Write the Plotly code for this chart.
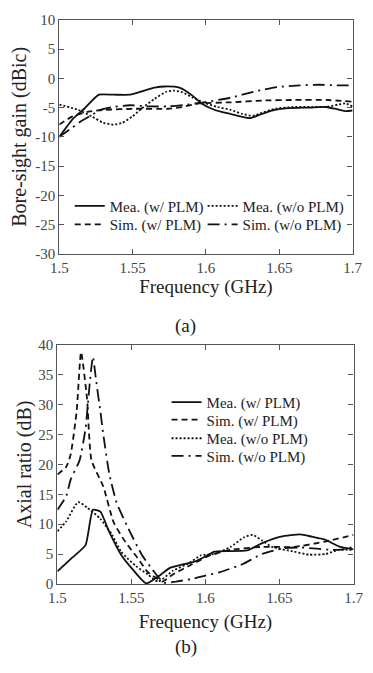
import plotly.graph_objects as go

# ---------------- (a) Bore-sight gain ----------------
gain_mea_w_f = [1.5, 1.509, 1.517, 1.527, 1.537, 1.548, 1.554, 1.565, 1.572, 1.582, 1.591, 1.597, 1.604,
                1.610, 1.617, 1.630, 1.636, 1.645, 1.656, 1.671, 1.682, 1.688, 1.695, 1.7]
gain_mea_w = [-10, -7.0, -5.2, -2.8, -2.8, -2.8, -2.4, -1.6, -1.4, -1.6, -3.0, -4.3, -5.2,
              -5.7, -6.1, -6.8, -6.3, -5.5, -5.1, -5.0, -4.9, -5.2, -5.6, -5.5]

gain_mea_wo_f = [1.5, 1.513, 1.522, 1.530, 1.537, 1.543, 1.550, 1.556, 1.565, 1.573, 1.578, 1.584, 1.591,
                 1.599, 1.608, 1.617, 1.625, 1.632, 1.638, 1.647, 1.660, 1.673, 1.682, 1.690, 1.695, 1.7]
gain_mea_wo = [-4.5, -5.4, -6.5, -7.6, -7.9, -7.6, -6.5, -5.2, -3.5, -2.3, -2.1, -2.4, -3.3,
               -4.2, -4.9, -5.4, -6.1, -6.4, -5.9, -5.2, -4.9, -4.9, -4.9, -4.5, -4.3, -4.8]

gain_sim_w_f = [1.5, 1.509, 1.520, 1.530, 1.552, 1.574, 1.584, 1.595, 1.617, 1.639, 1.660, 1.682, 1.7]
gain_sim_w = [-7.9, -6.5, -5.7, -5.4, -5.2, -5.2, -4.9, -4.3, -4.1, -3.8, -3.7, -3.7, -4.0]

gain_sim_wo_f = [1.5, 1.509, 1.515, 1.522, 1.528, 1.537, 1.548, 1.561, 1.574, 1.587, 1.599, 1.617,
                 1.634, 1.649, 1.664, 1.677, 1.690, 1.7]
gain_sim_wo = [-10, -8.4, -7.3, -6.3, -5.4, -4.9, -4.6, -4.8, -4.8, -4.5, -4.1, -3.3,
               -2.2, -1.5, -1.2, -1.1, -1.2, -1.2]

# ---------------- (b) Axial ratio ----------------
ar_mea_w_f = [1.5, 1.510, 1.519, 1.524, 1.529, 1.535, 1.543, 1.551, 1.560, 1.570, 1.576, 1.585, 1.591,
              1.600, 1.606, 1.615, 1.628, 1.638, 1.651, 1.664, 1.672, 1.681, 1.690, 1.7]
ar_mea_w = [2.1, 4.4, 6.5, 12.4, 12.1, 8.7, 4.9, 2.4, 0.1, 1.6, 2.7, 3.3, 3.6,
            4.6, 5.4, 5.5, 5.6, 6.8, 7.9, 8.3, 7.9, 7.4, 6.3, 5.8]

ar_sim_w_f = [1.5, 1.506, 1.509, 1.513, 1.516, 1.520, 1.523, 1.531, 1.538, 1.546, 1.554, 1.561, 1.568,
              1.571, 1.578, 1.591, 1.604, 1.617, 1.638, 1.660, 1.681, 1.7]
ar_sim_w = [18.3, 19.6, 21.7, 28.9, 38.8, 31.0, 20.7, 16.3, 10.3, 7.0, 4.4, 2.0, 0.8,
            0.4, 1.6, 3.3, 4.9, 5.7, 6.2, 6.2, 7.1, 8.2]

ar_mea_wo_f = [1.5, 1.506, 1.514, 1.520, 1.529, 1.537, 1.543, 1.553, 1.561, 1.568, 1.578, 1.589, 1.597,
               1.606, 1.617, 1.626, 1.632, 1.638, 1.645, 1.660, 1.670, 1.681, 1.690, 1.7]
ar_mea_wo = [8.8, 10.5, 13.7, 12.8, 10.9, 8.2, 5.4, 3.0, 1.6, 0.4, 2.2, 3.5, 4.8,
             5.0, 6.2, 7.8, 8.2, 7.3, 6.2, 5.4, 4.9, 5.0, 5.7, 5.7]

ar_sim_wo_f = [1.5, 1.506, 1.509, 1.515, 1.519, 1.522, 1.524, 1.526, 1.529, 1.531, 1.535, 1.540, 1.549,
               1.557, 1.563, 1.572, 1.580, 1.590, 1.600, 1.610, 1.625, 1.638, 1.653, 1.665, 1.675,
               1.685, 1.693, 1.7]
ar_sim_wo = [12.4, 14.7, 17.5, 20.7, 26.0, 34.0, 38.0, 34.3, 28.9, 25.0, 18.5, 13.6, 8.7,
             4.9, 2.8, 0.2, 0.4, 0.8, 1.4, 2.0, 3.3, 5.0, 6.0, 6.1, 5.9, 5.7, 5.8, 6.2]

x_ticks = [1.5, 1.55, 1.6, 1.65, 1.7]
gain_ticks = [10, 5, 0, -5, -10, -15, -20, -25, -30]
gain_tick_text = ["10", "5", "0", "-5", "-10", "-15", "-20", "-25", "-30"]
ar_ticks = [0, 5, 10, 15, 20, 25, 30, 35, 40]

FONT = "Liberation Serif, Times New Roman, serif"
INK = "#111111"
TXT = "#222222"
AXC = "#555555"
W = 373
H = 673

DASHES = {"solid": "solid", "dot": "2px,2px", "dash": "6px,4px", "dashdot": "12px,5px,2px,5px"}


def px_x(p):
    return p / W


def px_y(p):
    return 1 - p / H


fig = go.Figure()
legend_layouts = {}


def add(x, y, name, dash, xa, ya, legend, lx, ly):
    fig.add_trace(go.Scatter(
        x=x, y=y, name=name, mode="lines", xaxis=xa, yaxis=ya, legend=legend,
        line=dict(color=INK, width=1.8, dash=DASHES[dash], shape="spline", smoothing=0.5),
        hoverinfo="skip"))
    legend_layouts[legend] = dict(
        font=dict(family=FONT, size=15, color=TXT), bgcolor="rgba(0,0,0,0)",
        borderwidth=0, xanchor="left", yanchor="middle", itemwidth=30,
        x=px_x(lx), y=px_y(ly))


# top: two columns x two rows
add(gain_mea_w_f, gain_mea_w, "Mea. (w/ PLM)", "solid", "x", "y", "legend", 64, 203)
add(gain_mea_wo_f, gain_mea_wo, "Mea. (w/o PLM)", "dot", "x", "y", "legend2", 204, 203)
add(gain_sim_w_f, gain_sim_w, "Sim. (w/ PLM)", "dash", "x", "y", "legend3", 64, 222)
add(gain_sim_wo_f, gain_sim_wo, "Sim. (w/o PLM)", "dashdot", "x", "y", "legend4", 204, 222)

# bottom: one column
add(ar_mea_w_f, ar_mea_w, "Mea. (w/ PLM)", "solid", "x2", "y2", "legend5", 166, 404)
add(ar_sim_w_f, ar_sim_w, "Sim. (w/ PLM)", "dash", "x2", "y2", "legend6", 166, 422)
add(ar_mea_wo_f, ar_mea_wo, "Mea. (w/o PLM)", "dot", "x2", "y2", "legend7", 166, 441)
add(ar_sim_wo_f, ar_sim_wo, "Sim. (w/o PLM)", "dashdot", "x2", "y2", "legend8", 166, 459)

axis_common = dict(
    showline=True, linecolor=AXC, linewidth=1.2, mirror="ticks", ticks="inside", ticklen=5,
    tickcolor=AXC, showgrid=False, zeroline=False,
    tickfont=dict(family=FONT, size=15, color="#444444"),
)

fig.update_layout(
    width=W, height=H, margin=dict(l=0, r=0, t=0, b=0),
    paper_bgcolor="white", plot_bgcolor="white",
    xaxis=dict(axis_common, domain=[px_x(53), px_x(362)], range=[1.5, 1.7], tickvals=x_ticks,
               anchor="y",
               title=dict(text="Frequency (GHz)", font=dict(family=FONT, size=19, color=TXT),
                          standoff=4)),
    yaxis=dict(axis_common, domain=[px_y(252), px_y(12)], range=[-30, 10], tickvals=gain_ticks,
               ticktext=gain_tick_text, anchor="x",
               title=dict(text="Bore-sight gain (dBic)", font=dict(family=FONT, size=20, color=TXT),
                          standoff=3)),
    xaxis2=dict(axis_common, domain=[px_x(51), px_x(363)], range=[1.5, 1.7], tickvals=x_ticks,
                anchor="y2",
                title=dict(text="Frequency (GHz)", font=dict(family=FONT, size=19, color=TXT),
                           standoff=9)),
    yaxis2=dict(axis_common, domain=[px_y(590), px_y(345)], range=[0, 40], tickvals=ar_ticks,
                anchor="x2",
                title=dict(text="Axial ratio (dB)", font=dict(family=FONT, size=20, color=TXT),
                           standoff=1)),
    showlegend=True,
    annotations=[
        dict(text="(a)", x=px_x(186), y=px_y(326), xref="paper", yref="paper", showarrow=False,
             yanchor="middle", xanchor="center", font=dict(family=FONT, size=19, color=TXT)),
        dict(text="(b)", x=px_x(186), y=px_y(655), xref="paper", yref="paper", showarrow=False,
             yanchor="middle", xanchor="center", font=dict(family=FONT, size=19, color=TXT)),
    ],
    **legend_layouts,
)

fig.write_html("out.html")
